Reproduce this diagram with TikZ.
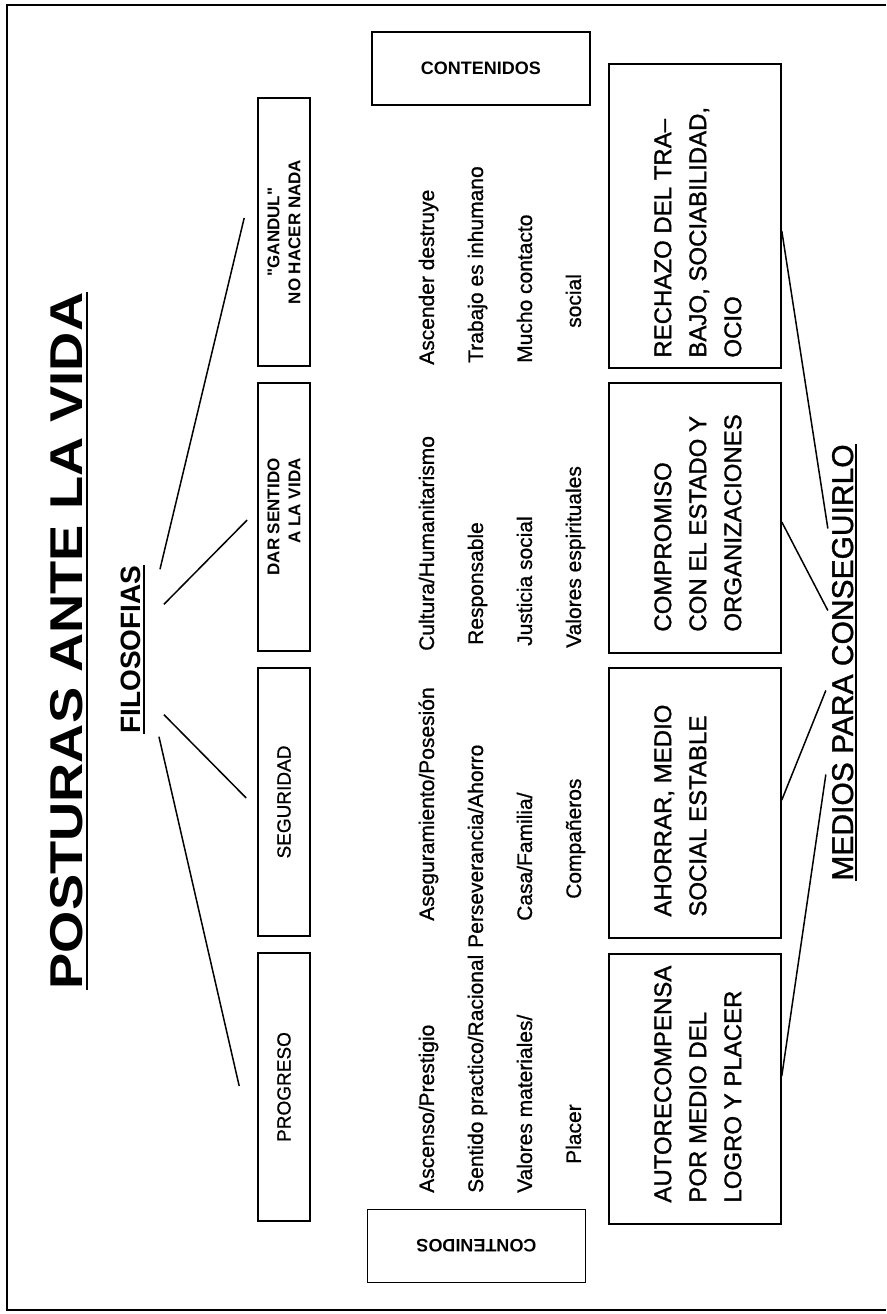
\documentclass[tikz,border=0pt]{standalone}
\usepackage{fontspec}
\setmainfont{Liberation Sans}
\newfontfamily\titlefont[FakeStretch=1.18]{Liberation Sans}
\newfontfamily\cajafont[FakeBold=1.2]{Liberation Sans}
\newfontfamily\textofont[FakeBold=0.8]{Liberation Sans}
\usetikzlibrary{positioning}

\begin{document}
\begin{tikzpicture}[x=1pt,y=1pt,rotate=90,transform shape,
    node distance=285pt,on grid,
    every node/.style={inner sep=0pt},
    postura/.style={draw,line width=1.6pt,minimum width=268pt,minimum height=52pt,
        font=\textofont\fontsize{19}{21}\selectfont},
    medio/.style={draw,line width=1.6pt,minimum width=270pt,minimum height=172pt},
    mediotext/.style={anchor=north west,align=left,font=\cajafont\fontsize{24}{35}\selectfont},
    contenido/.style={anchor=base west,font=\textofont\fontsize{21}{21}\selectfont},
    lema/.style={draw,line width=1.6pt,minimum width=218pt,minimum height=73pt,
        font=\bfseries\fontsize{18}{18}\selectfont},
    lineas/.style={line width=1.5pt}]
    \useasboundingbox (0,0) rectangle (1314,886);
    \draw[line width=2.5pt] (4,0) -- (4,879) -- (1309,879) -- (1309,0);

    \node[font=\titlefont\bfseries\fontsize{46}{46}\selectfont,inner ysep=3.5pt,anchor=base]
        (titulo) at (673,803) {POSTURAS ANTE LA VIDA};
    \draw[line width=2.5pt] (titulo.south west) -- (titulo.south east);
    \node[font=\bfseries\fontsize{28}{28}\selectfont,inner ysep=2.5pt,anchor=base]
        (filosofias) at (664.5,745) {FILOSOFIAS};
    \draw[line width=2pt] (filosofias.south west) -- (filosofias.south east);

    \node[postura] (progreso) at (227,602) {PROGRESO};
    \node[postura] [right=of progreso] (seguridad) {SEGURIDAD};
    \node[postura,align=right,font=\bfseries\fontsize{17}{21}\selectfont]
        [right=of seguridad] (sentido) {DAR SENTIDO\\A LA VIDA};
    \node[postura,align=center,font=\bfseries\fontsize{17}{21}\selectfont]
        [right=of sentido] (gandul) {\textquotedbl GANDUL\textquotedbl\\NO HACER NADA};

    \path[lineas]
    ([shift={(-3,-15)}]filosofias.south west) edge ([shift={(1,18)}]progreso.north)
    ([shift={(19,-20)}]filosofias.south west) edge ([shift={(4,11)}]seguridad.north)
    ([shift={(-39,-20)}]filosofias.south east) edge ([shift={(-3,10)}]sentido.north)
    ([shift={(-4,-16)}]filosofias.south east) edge ([shift={(14,13)}]gandul.north)
    ;

    \node[lema,rotate=-90] (contenidos_a) at (1245.5,405) {CONTENIDOS};
    \node[lema,rotate=90] (contenidos_b) at (68,409.5) {CONTENIDOS};

    \node[contenido] (asc) at (121,452) {Ascenso/Prestigio};
    \node[contenido] (sen) at (121,403) {Sentido practico/Racional};
    \node[contenido] (vmat) at (121,354) {Valores materiales/};
    \node[contenido] (pla) at (150,305) {Placer};
    \node[contenido] (ase) at (393,452) {Aseguramiento/Posesión};
    \node[contenido] (per) at (366,403) {Perseverancia/Ahorro};
    \node[contenido] (cas) at (393,354) {Casa/Familia/};
    \node[contenido] (com) at (415,305) {Compañeros};
    \node[contenido] (cul) at (663,452) {Cultura/Humanitarismo};
    \node[contenido] (res) at (669,403) {Responsable};
    \node[contenido] (jus) at (668,354) {Justicia social};
    \node[contenido] (vesp) at (666,305) {Valores espirituales};
    \node[contenido] (asd) at (949,452) {Ascender destruye};
    \node[contenido] (tra) at (951,403) {Trabajo es inhumano};
    \node[contenido] (muc) at (951,354) {Mucho contacto};
    \node[contenido] (soc) at (986,305) {social};

    \node[medio] (autorecompensa) at (225,191) {};
    \node[medio] [right=286pt of autorecompensa] (ahorrar) {};
    \node[medio] [right=of ahorrar] (compromiso) {};
    \node[medio,minimum width=304pt] [right=302pt of compromiso] (rechazo) {};
    \node[mediotext] (t_auto) at ([shift={(22,-46)}]autorecompensa.north west)
        {AUTORECOMPENSA\\POR MEDIO DEL\\LOGRO Y PLACER};
    \node[mediotext] (t_ahorrar) at ([shift={(22,-46)}]ahorrar.north west)
        {AHORRAR, MEDIO\\SOCIAL ESTABLE};
    \node[mediotext] (t_comp) at ([shift={(22,-46)}]compromiso.north west)
        {COMPROMISO\\CON EL ESTADO Y\\ORGANIZACIONES};
    \node[mediotext] (t_rech) at ([shift={(11,-46)}]rechazo.north west)
        {RECHAZO DEL TRA\textendash\\BAJO, SOCIABILIDAD,\\OCIO};

    \node[font=\cajafont\fontsize{30}{30}\selectfont,inner ysep=3pt,anchor=base]
        (medios) at (651.5,33) {MEDIOS PARA CONSEGUIRLO};
    \draw[line width=2pt] (medios.south west) -- (medios.south east);

    \path[lineas]
    ([shift={(-112,3)}]medios.north) edge ([shift={(13,0)}]autorecompensa.south)
    ([shift={(-28,3)}]medios.north) edge ([shift={(3,0)}]ahorrar.south)
    ([shift={(52,1)}]medios.north) edge ([shift={(-4,0)}]compromiso.south)
    ([shift={(134,1)}]medios.north) edge ([shift={(-15,0)}]rechazo.south)
    ;
\end{tikzpicture}
\end{document}
